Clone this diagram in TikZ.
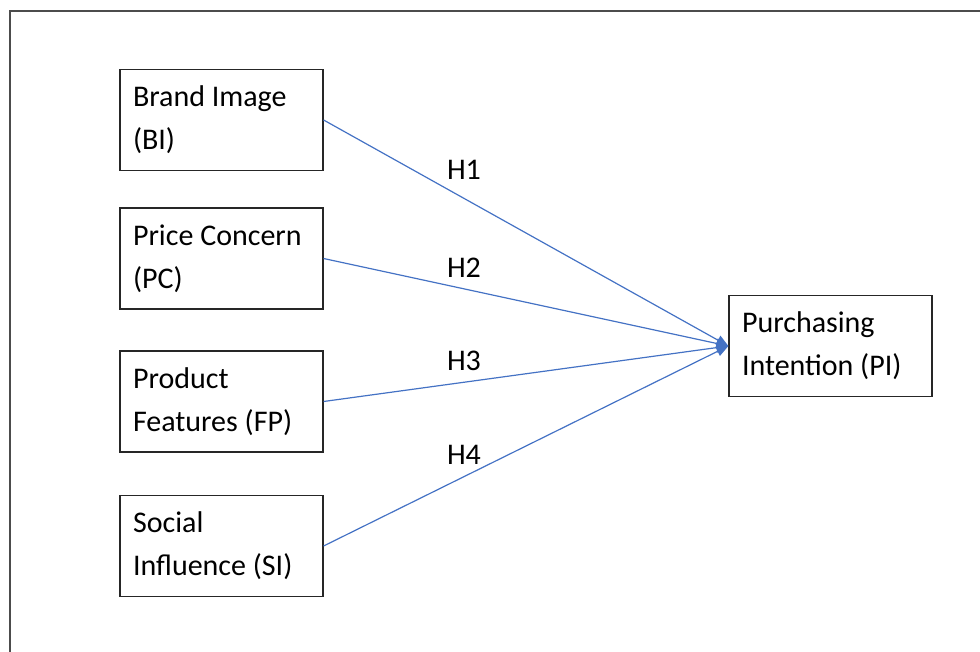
\documentclass[tikz,border=0pt]{standalone}
\usepackage{fontspec}
\setmainfont{Carlito}
\usetikzlibrary{positioning, arrows.meta}
\tikzset{
factor/.style={draw=black!85, line width=0.6pt, rectangle, minimum width=101.5pt, minimum height=50.5pt,
  text width=88.5pt, inner xsep=6.5pt, align=flush left, font=\fontsize{15pt}{21.5pt}\selectfont},
hyp/.style={font=\fontsize{15pt}{18pt}\selectfont, inner sep=0pt},
path/.style={draw={rgb,255:red,68;green,114;blue,196}, line width=0.6pt,
  -{Triangle[length=6pt,width=5pt]}},
}

\begin{document}
\begin{tikzpicture}[x=0.5pt, y=-0.5pt]
    \useasboundingbox (0,0) rectangle (980,652);

    % frame
    \draw[black!70, line width=0.7pt] (10,660) -- (10,11) -- (990,11);

    %factors on the left
    \node[factor] (bi) at (221.5,120) {Brand Image\\(BI)};
    \node[factor] (pc) at (221.5,258.5) {Price Concern\\(PC)};
    \node[factor] (fp) at (221.5,401.5) {Product\\Features (FP)};
    \node[factor] (si) at (221.5,546) {Social\\Influence (SI)};

    %outcome
    \node[factor] (pi) at (830.5,346) {Purchasing\\Intention (PI)};

    %paths
    \draw[path] (bi.east)--(pi.west);
    \draw[path] (pc.east)--(pi.west);
    \draw[path] (fp.east)--(pi.west);
    \draw[path] (si.east)--(pi.west);

    %hypotheses
    \node[hyp] (h1) at (464,170) {H1};
    \node[hyp] (h2) at (464,268) {H2};
    \node[hyp] (h3) at (464,361) {H3};
    \node[hyp] (h4) at (464,455) {H4};
\end{tikzpicture}
\end{document}
